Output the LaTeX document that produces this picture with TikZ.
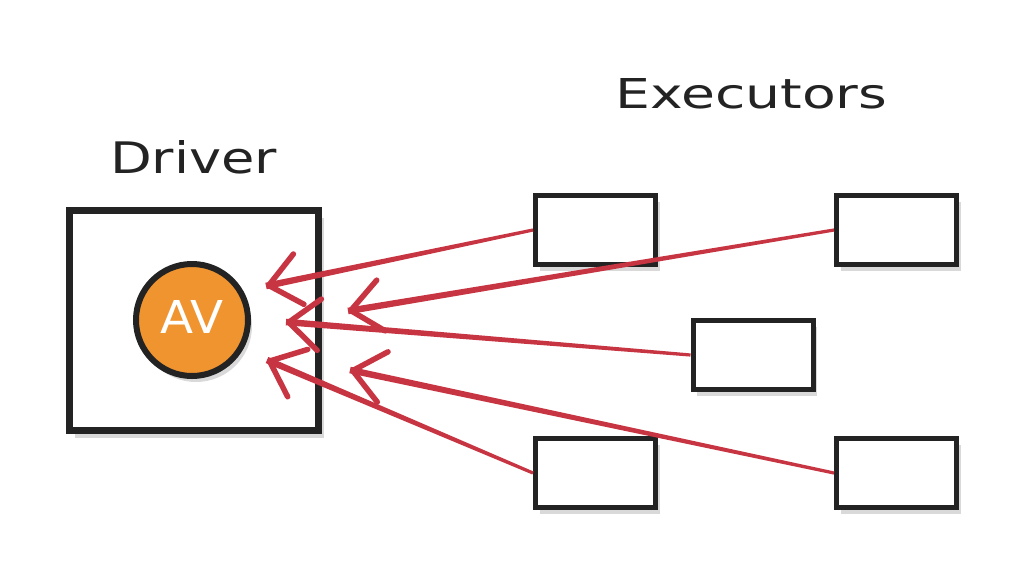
\documentclass[tikz,border=0pt]{standalone}
\usepackage{fontspec}
\setmainfont{DejaVu Sans}
\usetikzlibrary{arrows.meta,calc,shadows}
\definecolor{arrred}{HTML}{C73542}
\definecolor{avorange}{HTML}{F09430}
\definecolor{ink}{HTML}{232323}
\newcommand\arrowtaper[2]{%
  \fill[arrred] ($(#2)!3.3pt!90:(#1)$) -- ($(#1)!1.6pt!-90:(#2)$) -- ($(#1)!1.6pt!90:(#2)$) -- ($(#2)!3.3pt!-90:(#1)$) -- cycle;
  \draw[arrhead] ($(#2)!16pt!(#1)$) -- (#2);}
\tikzset{
  exbox/.style={draw=ink, line width=5pt, fill=white, minimum width=120pt, minimum height=69pt, inner sep=0pt,
    drop shadow={shadow xshift=4pt, shadow yshift=-6pt, opacity=0.15, fill=black}},
  drvbox/.style={draw=ink, line width=7pt, fill=white, minimum width=249pt, minimum height=220pt, inner sep=0pt,
    drop shadow={shadow xshift=5pt, shadow yshift=-7pt, opacity=0.15, fill=black}},
  avcirc/.style={circle, draw=ink, line width=6pt, fill=avorange, minimum size=112pt, inner sep=0pt,
    drop shadow={shadow xshift=4pt, shadow yshift=-6pt, opacity=0.15, fill=black}},
  lbl/.style={anchor=base west, inner sep=0pt, text=ink},
  arrhead/.style={draw=arrred, line width=5.5pt, -{Straight Barb[angle=80:40pt, round]}}
}
\begin{document}
\begin{tikzpicture}[x=1pt, y=-1pt]
\useasboundingbox (0,0) rectangle (1032,582);
\fill[white] (0,0) rectangle (1032,582);

\node[lbl] (exlbl) at (615,108) {\resizebox{272pt}{30pt}{Executors}};
\node[lbl] (drvlbl) at (110,173) {\resizebox{167pt}{33pt}{Driver}};

\node[drvbox] (drv) at (194,320.5) {};
\node[avcirc] (av) at (192,320) {};
\node[lbl, text=white] (avtxt) at (160.5,333) {\resizebox{63pt}{33pt}{AV}};

\node[exbox] (e1) at (595.5,230) {};
\node[exbox] (e2) at (896.5,230) {};
\node[exbox] (e3) at (753,355) {};
\node[exbox] (e4) at (595.5,473) {};
\node[exbox] (e5) at (896.5,473) {};

\coordinate (t1) at (266,286);
\coordinate (t2) at (348,311);
\coordinate (t3) at (286,322);
\coordinate (t4) at (267,360);
\coordinate (t5) at (350,370);

\arrowtaper{e1.west}{t1}
\arrowtaper{e2.west}{t2}
\arrowtaper{e3.west}{t3}
\arrowtaper{e4.west}{t4}
\arrowtaper{e5.west}{t5}
\end{tikzpicture}
\end{document}
